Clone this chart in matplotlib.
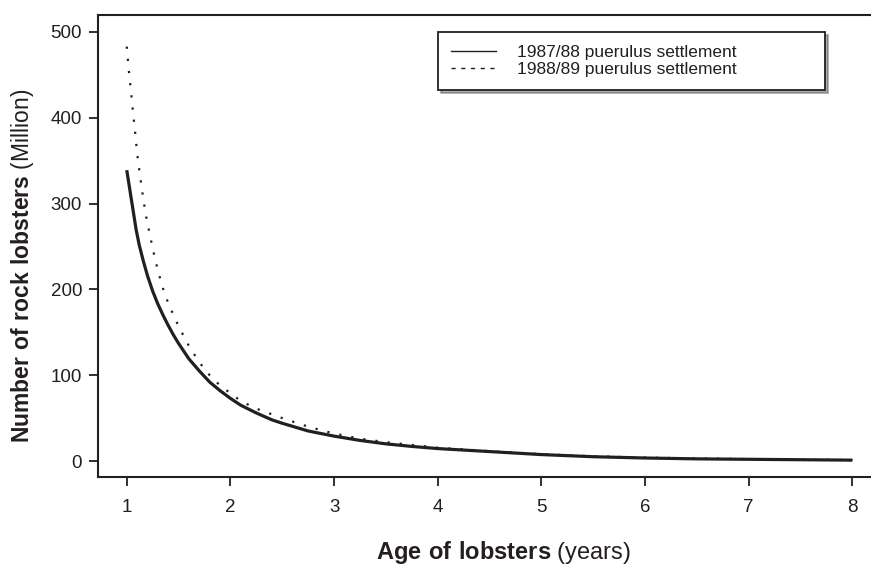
import matplotlib
matplotlib.use("Agg")
import matplotlib.pyplot as plt
from matplotlib.lines import Line2D

plt.rcParams["font.family"] = ["Liberation Sans", "DejaVu Sans"]
plt.rcParams["mathtext.fontset"] = "custom"
plt.rcParams["mathtext.rm"] = "Liberation Sans"
plt.rcParams["mathtext.bf"] = "Liberation Sans:bold"

INK = "#231f20"

# 1987/88 puerulus settlement (solid)
age_8788 = [1.0, 1.03, 1.06, 1.09, 1.12, 1.16, 1.2, 1.25, 1.3, 1.35, 1.4, 1.45,
            1.5, 1.6, 1.7, 1.8, 1.9, 2.0, 2.1, 2.25, 2.4, 2.5, 2.75, 3.0, 3.25,
            3.5, 3.75, 4.0, 4.5, 5.0, 5.5, 6.0, 6.5, 7.0, 7.5, 8.0]
n_8788 = [339, 316, 293, 270, 252, 233, 216, 198, 183, 170, 158, 147,
          137, 119, 105, 92, 82, 73, 65, 56, 48, 44, 35, 29, 24,
          20, 17, 14.5, 11, 7.5, 5, 3.5, 2.5, 2, 1.5, 1]

# 1988/89 puerulus settlement (dotted)
age_8889 = [1.0, 1.02, 1.04, 1.06, 1.08, 1.1, 1.13, 1.16, 1.19, 1.25, 1.3, 1.35,
            1.4, 1.5, 1.6, 1.7, 1.8, 1.9, 2.0, 2.1, 2.25, 2.5, 2.75, 3.0, 3.25,
            3.5, 4.0, 4.5, 5.0, 5.5, 6.0, 6.5, 7.0, 7.5, 8.0]
n_8889 = [483, 455, 432, 407, 384, 359, 331, 305, 283, 248, 222, 201,
          184, 157, 134, 115, 100, 88, 79, 70, 61, 50, 40, 32, 26,
          22, 15.5, 11.5, 8, 5.5, 4, 3, 2.2, 1.6, 1.2]

x_ticks = [1, 2, 3, 4, 5, 6, 7, 8]
y_ticks = [0, 100, 200, 300, 400, 500]
labels = ["1987/88 puerulus settlement", "1988/89 puerulus settlement"]

fig = plt.figure(figsize=(8.71, 5.64), dpi=100)
ax = fig.add_axes([0.1122, 0.1534, 0.8878, 0.82])

ax.plot(age_8788, n_8788, color=INK, lw=2.3, solid_capstyle="butt",
        solid_joinstyle="round")
ax.plot(age_8889, n_8889, color=INK, lw=1.6, dashes=(1, 4.5))

ax.set_xlim(0.72, 8.18)
ax.set_ylim(-19.2, 519.8)
ax.set_xticks(x_ticks)
ax.set_yticks(y_ticks)

for side in ("left", "top", "bottom"):
    ax.spines[side].set_linewidth(1.5)
    ax.spines[side].set_color(INK)
ax.spines["right"].set_visible(False)

ax.tick_params(axis="both", direction="out", length=6.3, width=1.3,
               color=INK, labelcolor=INK, labelsize=13.5)
ax.tick_params(axis="x", pad=9.5)
ax.tick_params(axis="y", pad=5)

handles = [Line2D([], [], color=INK, lw=1.0),
           Line2D([], [], color=INK, lw=1.0, dashes=(3, 4))]
top = 1 - (32 - 15) / 462.5
leg = ax.legend(handles, labels, loc="upper left",
                bbox_to_anchor=((438 - 97.7) / 773.3, top - 0.05,
                                387 / 773.3, 0.05),
                mode="expand", fontsize=12.5, handlelength=2.6,
                handletextpad=1.2, borderpad=0.75, labelspacing=0.12,
                borderaxespad=0, fancybox=False, shadow={"alpha": 0.45})
leg.get_frame().set_edgecolor(INK)
leg.get_frame().set_linewidth(1.3)
for t in leg.get_texts():
    t.set_color(INK)

fig.text(503 / 871, 1 - 552 / 564,
         r"$\mathbf{Age\ of\ lobsters}$ (years)",
         ha="center", va="center", fontsize=17, color=INK)
fig.text(23 / 871, 1 - 266 / 564,
         r"$\mathbf{Number\ of\ rock\ lobsters}$ (Million)",
         ha="center", va="center", rotation=90, fontsize=16.5, color=INK)

fig.savefig("out.png", dpi=100)
